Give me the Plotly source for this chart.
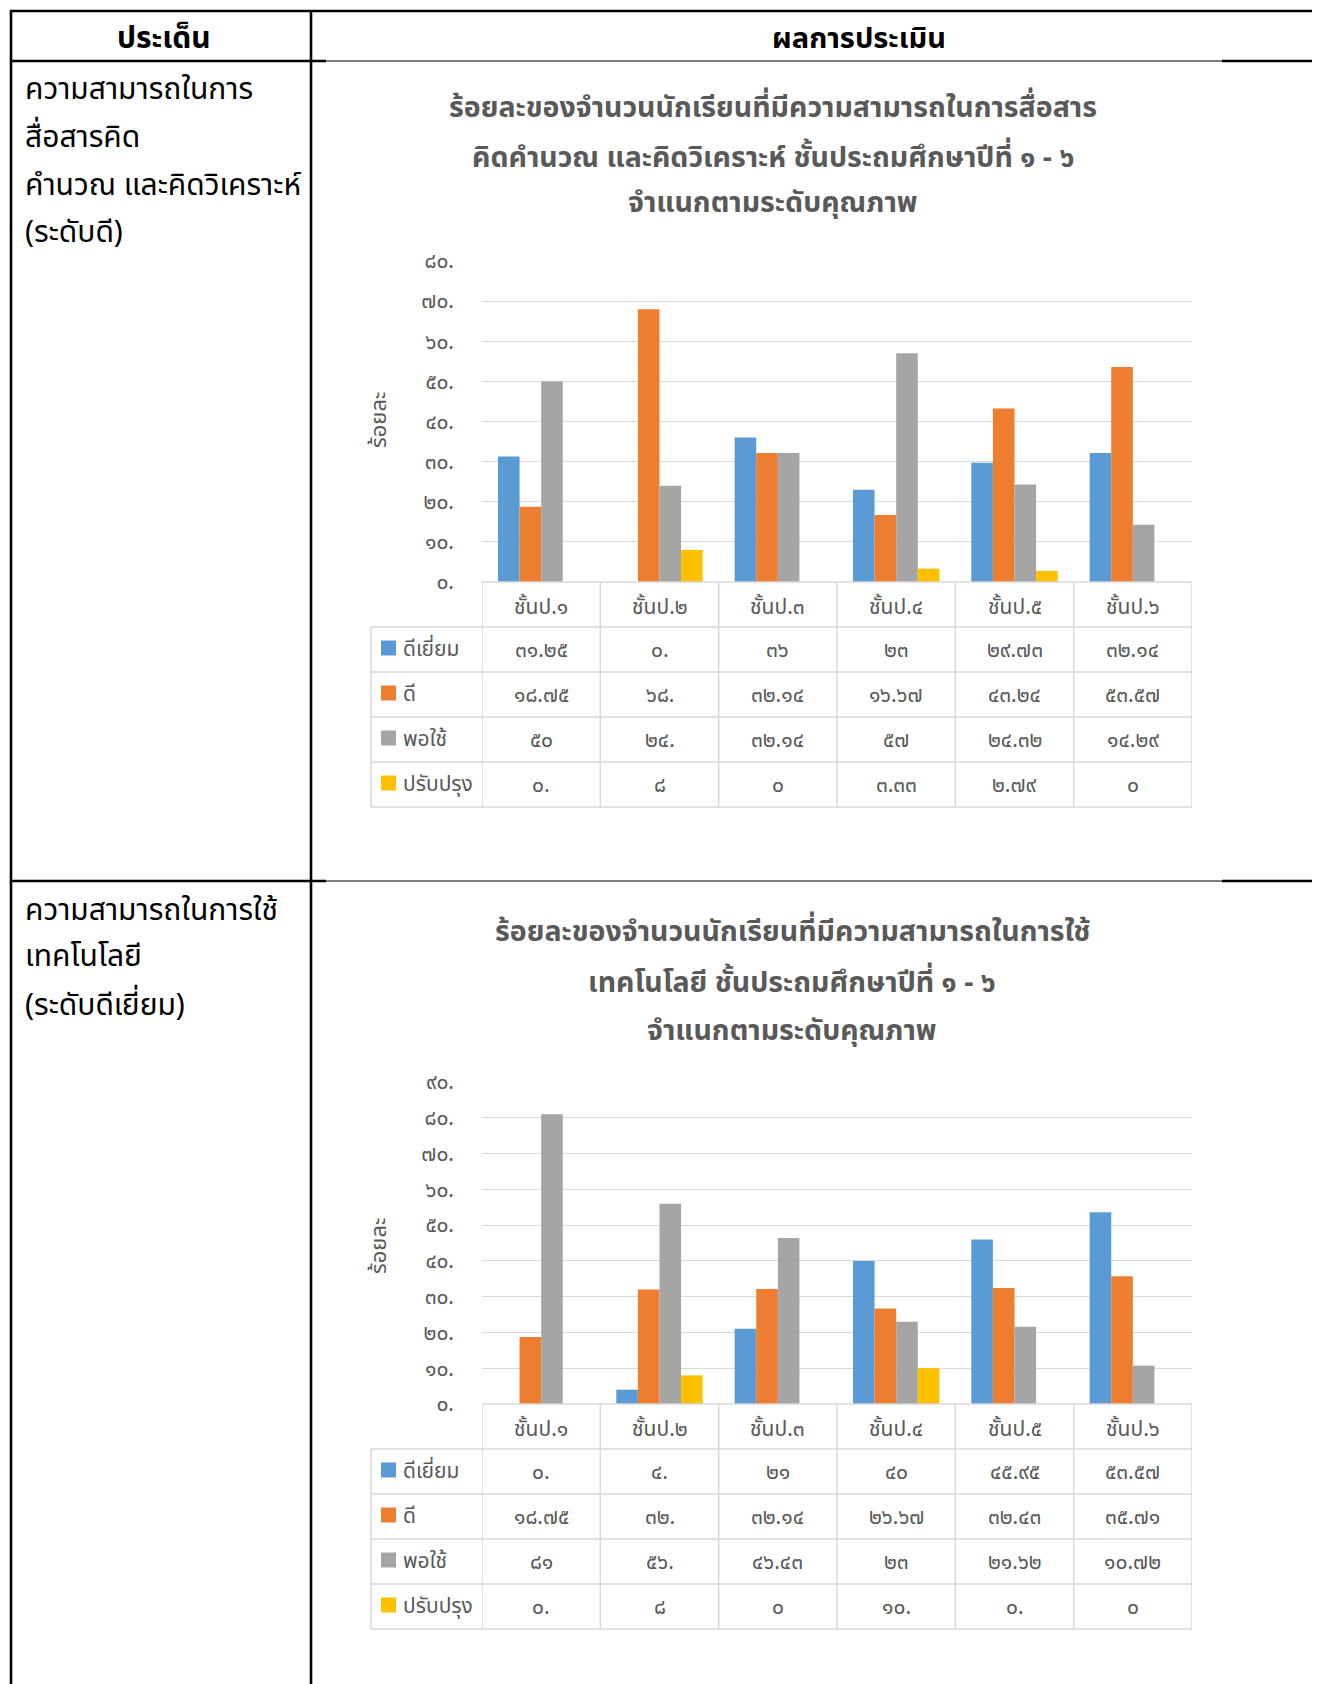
import plotly.graph_objects as go

# page has an 8px body margin; figure fills the rest of the 1320x1684 window
OFF = 8
FW, FH = 1320 - OFF, 1684 - OFF

# ---------------- data ----------------
categories = ["ชั้นป.๑", "ชั้นป.๒", "ชั้นป.๓", "ชั้นป.๔", "ชั้นป.๕", "ชั้นป.๖"]
series_names = ["ดีเยี่ยม", "ดี", "พอใช้", "ปรับปรุง"]
series_colors = ["#5B9BD5", "#ED7D31", "#A5A5A5", "#FFC000"]

# chart 1: communication / computation / analytical thinking
c1_excellent = [31.25, 0, 36, 23, 29.73, 32.14]
c1_good = [18.75, 68, 32.14, 16.67, 43.24, 53.57]
c1_fair = [50, 24, 32.14, 57, 24.32, 14.29]
c1_improve = [0, 8, 0, 3.33, 2.79, 0]

c1_excellent_lbl = ["๓๑.๒๕", "๐.", "๓๖", "๒๓", "๒๙.๗๓", "๓๒.๑๔"]
c1_good_lbl = ["๑๘.๗๕", "๖๘.", "๓๒.๑๔", "๑๖.๖๗", "๔๓.๒๔", "๕๓.๕๗"]
c1_fair_lbl = ["๕๐", "๒๔.", "๓๒.๑๔", "๕๗", "๒๔.๓๒", "๑๔.๒๙"]
c1_improve_lbl = ["๐.", "๘", "๐", "๓.๓๓", "๒.๗๙", "๐"]

c1_tickvals = [0, 10, 20, 30, 40, 50, 60, 70, 80]
c1_ticktext = ["๐.", "๑๐.", "๒๐.", "๓๐.", "๔๐.", "๕๐.", "๖๐.", "๗๐.", "๘๐."]

# chart 2: technology use
c2_excellent = [0, 4, 21, 40, 45.95, 53.57]
c2_good = [18.75, 32, 32.14, 26.67, 32.43, 35.71]
c2_fair = [81, 56, 46.43, 23, 21.62, 10.72]
c2_improve = [0, 8, 0, 10, 0, 0]

c2_excellent_lbl = ["๐.", "๔.", "๒๑", "๔๐", "๔๕.๙๕", "๕๓.๕๗"]
c2_good_lbl = ["๑๘.๗๕", "๓๒.", "๓๒.๑๔", "๒๖.๖๗", "๓๒.๔๓", "๓๕.๗๑"]
c2_fair_lbl = ["๘๑", "๕๖.", "๔๖.๔๓", "๒๓", "๒๑.๖๒", "๑๐.๗๒"]
c2_improve_lbl = ["๐.", "๘", "๐", "๑๐.", "๐.", "๐"]

c2_tickvals = [0, 10, 20, 30, 40, 50, 60, 70, 80, 90]
c2_ticktext = ["๐.", "๑๐.", "๒๐.", "๓๐.", "๔๐.", "๕๐.", "๖๐.", "๗๐.", "๘๐.", "๙๐."]

c1_title = ["ร้อยละของจำนวนนักเรียนที่มีความสามารถในการสื่อสาร",
            "คิดคำนวณ และคิดวิเคราะห์ ชั้นประถมศึกษาปีที่ ๑ - ๖",
            "จำแนกตามระดับคุณภาพ"]
c2_title = ["ร้อยละของจำนวนนักเรียนที่มีความสามารถในการใช้",
            "เทคโนโลยี ชั้นประถมศึกษาปีที่ ๑ - ๖",
            "จำแนกตามระดับคุณภาพ"]
c1_topic = ["ความสามารถในการ", "สื่อสารคิด", "คำนวณ และคิดวิเคราะห์", "(ระดับดี)"]
c2_topic = ["ความสามารถในการใช้", "เทคโนโลยี", "(ระดับดีเยี่ยม)"]
header_topic = "ประเด็น"
header_result = "ผลการประเมิน"
y_title = "ร้อยละ"

# ---------------- styling ----------------
FONT = "Noto Sans Thai, Noto Sans, Tahoma, sans-serif"
TXT = "#595959"
GRID = "#D9D9D9"
ROW_H = 45


def px(x):
    return (x - OFF) / FW


def py(y):
    return 1 - (y - OFF) / FH


fig = go.Figure()

charts = [
    dict(vals=[c1_excellent, c1_good, c1_fair, c1_improve],
         lbls=[c1_excellent_lbl, c1_good_lbl, c1_fair_lbl, c1_improve_lbl],
         xa="x", ya="y", top=261, zero=582, rng=[0, 80],
         tv=c1_tickvals, tt=c1_ticktext,
         title=c1_title, title_x=773, title_y=[108, 158, 204],
         topic=c1_topic, topic_y=[90, 138, 186, 233], ytitle_y=420),
    dict(vals=[c2_excellent, c2_good, c2_fair, c2_improve],
         lbls=[c2_excellent_lbl, c2_good_lbl, c2_fair_lbl, c2_improve_lbl],
         xa="x2", ya="y2", top=1082, zero=1404, rng=[0, 90],
         tv=c2_tickvals, tt=c2_ticktext,
         title=c2_title, title_x=792, title_y=[932, 983, 1031],
         topic=c2_topic, topic_y=[911, 957, 1006], ytitle_y=1246),
]

PLOT_L, PLOT_R, TBL_L = 482, 1192, 371
annotations = []
shapes = []
ncat = len(categories)

for ci, ch in enumerate(charts):
    for si in range(4):
        fig.add_trace(go.Bar(
            x=categories, y=ch["vals"][si], name=series_names[si],
            marker=dict(color=series_colors[si], line=dict(width=0)),
            xaxis=ch["xa"], yaxis=ch["ya"], showlegend=False,
            hoverinfo="x+y+name",
        ))
    z = ch["zero"]
    nrows = 1 + len(series_names)
    # --- data table grid (category columns follow the x axis scale) ---
    shapes.append(dict(type="line", xref=ch["xa"], yref="paper",
                       x0=-0.5, x1=ncat - 0.5, y0=py(z), y1=py(z),
                       line=dict(color=GRID, width=1.5)))
    for r in range(1, nrows + 1):
        yy = z + r * ROW_H
        shapes.append(dict(type="line", xref="paper", yref="paper",
                           x0=px(TBL_L), x1=px(PLOT_R), y0=py(yy), y1=py(yy),
                           line=dict(color=GRID, width=1.5)))
    for i in range(ncat + 1):
        shapes.append(dict(type="line", xref=ch["xa"], yref="paper",
                           x0=i - 0.5, x1=i - 0.5, y0=py(z), y1=py(z + nrows * ROW_H),
                           line=dict(color=GRID, width=1.5)))
    shapes.append(dict(type="line", xref="paper", yref="paper",
                       x0=px(TBL_L), x1=px(TBL_L), y0=py(z + ROW_H), y1=py(z + nrows * ROW_H),
                       line=dict(color=GRID, width=1.5)))
    # category labels (header row of the data table)
    for cat in categories:
        annotations.append(dict(x=cat, y=py(z + ROW_H / 2 + 3), xref=ch["xa"], yref="paper",
                                text=cat, showarrow=False, xanchor="center", yanchor="middle",
                                font=dict(family=FONT, size=21, color=TXT)))
    # series rows
    for si, name in enumerate(series_names):
        yc = z + ROW_H * (si + 1) + ROW_H / 2
        shapes.append(dict(type="rect", xref="paper", yref="paper",
                           x0=px(TBL_L + 10), x1=px(TBL_L + 25),
                           y0=py(yc - 9), y1=py(yc + 6),
                           fillcolor=series_colors[si], line=dict(width=0)))
        annotations.append(dict(x=px(TBL_L + 30), y=py(yc), xref="paper", yref="paper",
                                text=name, showarrow=False, xanchor="left", yanchor="middle",
                                font=dict(family=FONT, size=21, color=TXT)))
        for j, cat in enumerate(categories):
            annotations.append(dict(x=cat, y=py(yc + 1), xref=ch["xa"], yref="paper",
                                    text=ch["lbls"][si][j], showarrow=False,
                                    xanchor="center", yanchor="middle",
                                    font=dict(family=FONT, size=21, color=TXT)))
    # title lines
    for line, yy in zip(ch["title"], ch["title_y"]):
        annotations.append(dict(x=px(ch["title_x"]), y=py(yy), xref="paper", yref="paper",
                                text=f"<b>{line}</b>", showarrow=False,
                                xanchor="center", yanchor="middle",
                                font=dict(family=FONT, size=28.5, color=TXT)))
    # left column topic text
    for line, yy in zip(ch["topic"], ch["topic_y"]):
        annotations.append(dict(x=px(23), y=py(yy), xref="paper", yref="paper",
                                text=line, showarrow=False,
                                xanchor="left", yanchor="middle",
                                font=dict(family=FONT, size=30, color="black")))
    # y axis title
    annotations.append(dict(x=px(379), y=py(ch["ytitle_y"]), xref="paper", yref="paper",
                            text=y_title, showarrow=False, textangle=-90,
                            xanchor="center", yanchor="middle",
                            font=dict(family=FONT, size=22, color=TXT)))

# header row texts
annotations.append(dict(x=px(164), y=py(39), xref="paper", yref="paper",
                        text=f"<b>{header_topic}</b>", showarrow=False,
                        xanchor="center", yanchor="middle",
                        font=dict(family=FONT, size=30, color="black")))
annotations.append(dict(x=px(859), y=py(39), xref="paper", yref="paper",
                        text=f"<b>{header_result}</b>", showarrow=False,
                        xanchor="center", yanchor="middle",
                        font=dict(family=FONT, size=29, color="black")))


def hline(x0, x1, y, w):
    shapes.append(dict(type="line", xref="paper", yref="paper",
                       x0=px(x0), x1=px(x1), y0=py(y), y1=py(y),
                       line=dict(color="black", width=w)))


def vline(x, y0, y1, w):
    shapes.append(dict(type="line", xref="paper", yref="paper",
                       x0=px(x), x1=px(x), y0=py(y0), y1=py(y1),
                       line=dict(color="black", width=w)))


# outer document table borders
hline(10, 1320, 11, 2.6)
vline(11, 10, 1684, 2.6)
vline(311, 10, 1684, 2.6)
for yy in (61, 881):
    hline(10, 326, yy, 2.6)
    hline(326, 1222, yy, 1.2)
    hline(1222, 1320, yy, 2.6)

axis_common = dict(showline=False, zeroline=False, ticks="", automargin=False)
layout_axes = {}
for ci, ch in enumerate(charts):
    sfx = "" if ci == 0 else "2"
    layout_axes["xaxis" + sfx] = dict(domain=[px(PLOT_L), px(PLOT_R)], anchor="y" + sfx,
                                      type="category", showticklabels=False, showgrid=False,
                                      range=[-0.5, ncat - 0.5], **axis_common)
    layout_axes["yaxis" + sfx] = dict(domain=[py(ch["zero"]), py(ch["top"])], anchor="x" + sfx,
                                      range=ch["rng"], tickvals=ch["tv"], ticktext=ch["tt"],
                                      showgrid=True, gridcolor=GRID, gridwidth=1.3,
                                      ticklabelstandoff=27,
                                      tickfont=dict(family=FONT, size=21, color=TXT),
                                      **axis_common)

fig.update_layout(
    width=FW, height=FH,
    margin=dict(l=0, r=0, t=0, b=0, pad=0, autoexpand=False),
    paper_bgcolor="white", plot_bgcolor="white",
    barmode="group", bargap=0.27, bargroupgap=0,
    annotations=annotations, shapes=shapes,
    font=dict(family=FONT, color=TXT),
    **layout_axes,
)

fig.write_html("out.html")
